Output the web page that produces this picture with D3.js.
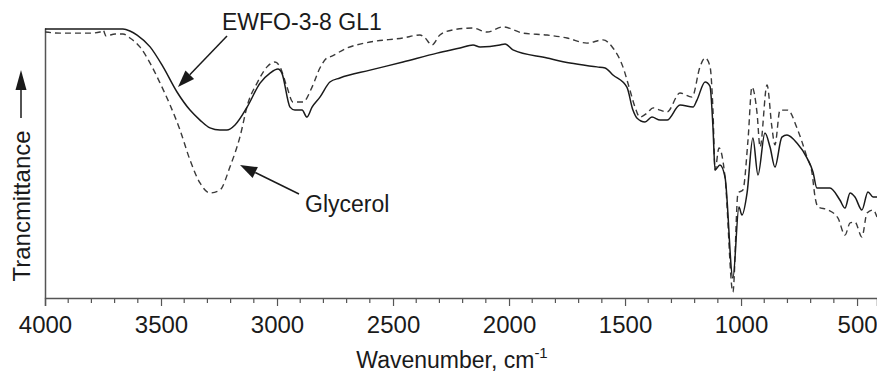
<!DOCTYPE html>
<html>
<head>
<meta charset="utf-8">
<script src="https://cdn.jsdelivr.net/npm/d3@7"></script>
<style>
  html, body { margin: 0; padding: 0; background: #fff; }
  svg { display: block; font-family: "Liberation Sans", Arial, sans-serif; }
</style>
</head>
<body>
<svg id="chart" width="877" height="372"></svg>
<script>
// ---- data (wavenumber cm^-1, relative transmittance) ----
const ewfoWavenumber = [4000,3849,3664,3634,3603,3547,3491,3431,3375,3332,3289,3246,3216,3181,3129,3073,3030,2996,2979,2944,2923,2892,2871,2849,2815,2772,2729,2599,2457,2310,2211,2155,2125,2039,2017,1983,1836,1737,1621,1586,1552,1492,1466,1449,1414,1384,1349,1319,1263,1207,1190,1155,1134,1121,1112,1091,1069,1035,1009,996,974,949,927,897,875,854,824,802,759,716,690,673,617,574,552,530,509,479,453,431,414];
const ewfoValues = [99.6,99.6,99.6,98.9,97.4,93.0,85.6,76.3,69.6,65.9,63.0,62.2,62.2,64.1,70.7,79.6,83.3,84.8,83.3,70.7,69.6,69.6,67.0,70.7,74.4,80.0,81.5,84.4,87.4,90.7,92.6,93.7,93.0,93.7,94.1,91.9,88.9,87.0,85.6,85.2,82.6,78.1,69.6,66.7,65.2,67.0,65.9,65.9,71.5,70.7,73.3,80.0,78.5,63.3,47.4,49.3,44.8,7.4,33.7,30.7,38.9,59.3,45.6,61.1,55.9,48.5,59.6,60.4,57.4,51.9,46.7,40.7,40.7,36.3,33.3,38.9,37.4,32.6,39.3,37.4,37.4];

const glycerolWavenumber = [4000,3935,3806,3763,3750,3737,3698,3664,3634,3591,3547,3504,3461,3418,3375,3332,3289,3246,3203,3160,3125,3086,3043,3009,2987,2957,2931,2888,2849,2815,2785,2772,2698,2599,2457,2384,2362,2332,2298,2242,2155,2095,2026,1940,1836,1750,1664,1595,1552,1509,1479,1457,1436,1405,1379,1349,1319,1263,1211,1177,1155,1134,1121,1112,1095,1069,1035,1013,992,970,953,931,918,888,867,854,832,798,759,716,694,681,668,625,582,552,530,509,479,457,431,414];
const glycerolValues = [98.5,98.1,98.1,98.5,99.3,97.0,97.8,97.8,96.3,93.0,87.0,79.6,71.5,62.2,51.1,42.6,38.9,40.0,48.5,59.6,72.2,79.6,85.6,87.4,85.6,78.1,72.6,72.6,78.1,85.2,88.9,89.3,92.6,94.8,96.3,97.4,96.3,93.7,97.4,99.3,100.0,98.5,100.4,98.1,97.4,96.3,94.4,95.6,92.6,85.6,77.0,70.7,67.0,68.5,70.4,69.6,68.9,75.9,74.4,85.6,88.9,85.9,69.6,47.4,55.6,44.8,2.2,38.9,40.0,58.5,78.1,68.5,55.9,78.9,63.3,56.7,69.6,69.6,63.0,52.2,46.3,37.4,33.7,32.6,29.6,23.3,27.8,28.1,22.6,31.5,32.6,30.0];

const xTickValues = [4000, 3500, 3000, 2500, 2000, 1500, 1000, 500];
const xMinorTicks = d3.range(4000, 400, -100);
const seriesLabels = ["EWFO-3-8 GL1", "Glycerol"];
const xTitle = "Wavenumber, cm";
const xTitleSup = "-1";
const yTitle = "Trancmittance";

// ---- layout ----
const svg = d3.select("#chart");
const mLeft = 45, mRight = 877, mTop = 28, mBottom = 298;
const x = d3.scaleLinear().domain([4000, 414]).range([mLeft, mRight]);
const y = d3.scaleLinear().domain([0, 100]).range([mBottom, mTop]);

const ink = "#1a1a1a";
const axisCol = "#555";

svg.append("defs").append("clipPath").attr("id", "clip")
  .append("rect").attr("x", mLeft).attr("y", 0).attr("width", mRight - mLeft).attr("height", mBottom);

// bottom axis
const xAxis = d3.axisBottom(x).tickValues(xTickValues).tickSize(8).tickFormat(d3.format("d"));
const gx = svg.append("g").attr("transform", `translate(0,${mBottom})`).call(xAxis);
gx.select(".domain").attr("stroke", axisCol).attr("stroke-width", 1.5);
gx.selectAll(".tick line").attr("stroke", axisCol).attr("stroke-width", 1.2);
gx.selectAll(".tick text").attr("font-size", 24).attr("fill", ink)
  .attr("font-family", '"Liberation Sans", Arial, sans-serif').attr("dy", null).attr("y", 35);
// minor ticks
svg.append("g").selectAll("line").data(xMinorTicks.filter(d => !xTickValues.includes(d)))
  .join("line")
  .attr("x1", d => x(d)).attr("x2", d => x(d))
  .attr("y1", mBottom).attr("y2", mBottom + 5)
  .attr("stroke", axisCol).attr("stroke-width", 1.2);

// left axis line (no ticks)
const yAxis = d3.axisLeft(y).tickValues([]).tickSize(0);
const gy = svg.append("g").attr("transform", `translate(${mLeft},0)`).call(yAxis);
gy.select(".domain").attr("stroke", axisCol).attr("stroke-width", 1.5);

// lines
const line = d3.line().x(d => x(d[0])).y(d => y(d[1])).curve(d3.curveMonotoneX);
const plot = svg.append("g").attr("clip-path", "url(#clip)");
plot.append("path")
  .datum(d3.zip(glycerolWavenumber, glycerolValues))
  .attr("d", line).attr("fill", "none").attr("stroke", "#3a3a3a")
  .attr("stroke-width", 1.4).attr("stroke-dasharray", "6,4");
plot.append("path")
  .datum(d3.zip(ewfoWavenumber, ewfoValues))
  .attr("d", line).attr("fill", "none").attr("stroke", ink)
  .attr("stroke-width", 1.5);

// axis titles
const xt = svg.append("text").attr("x", 452).attr("y", 368).attr("text-anchor", "middle")
  .attr("font-size", 23).attr("fill", ink);
xt.append("tspan").text(xTitle);
xt.append("tspan").text(xTitleSup).attr("font-size", 15).attr("dy", -10);

svg.append("text").attr("transform", "translate(30,206) rotate(-90)")
  .attr("text-anchor", "middle").attr("font-size", 24).attr("fill", ink).text(yTitle);

// arrows
function arrow(x1, y1, x2, y2, headLen, headW, sw) {
  const ang = Math.atan2(y2 - y1, x2 - x1);
  const bx = x2 - headLen * Math.cos(ang), by = y2 - headLen * Math.sin(ang);
  svg.append("line").attr("x1", x1).attr("y1", y1).attr("x2", bx).attr("y2", by)
    .attr("stroke", ink).attr("stroke-width", sw);
  const px = -Math.sin(ang) * headW / 2, py = Math.cos(ang) * headW / 2;
  svg.append("path")
    .attr("d", `M${x2},${y2}L${bx + px},${by + py}L${bx - px},${by - py}Z`)
    .attr("fill", ink);
}
arrow(21, 118, 21, 70, 20, 11, 1.5);

// annotations
svg.append("text").attr("x", 222).attr("y", 30).attr("font-size", 23).attr("fill", ink).text(seriesLabels[0]);
arrow(227, 36, 178, 87, 17, 12, 1.5);
svg.append("text").attr("x", 305).attr("y", 212).attr("font-size", 23).attr("fill", ink).text(seriesLabels[1]);
arrow(299, 194, 240, 165, 17, 12, 1.5);
</script>
</body>
</html>
